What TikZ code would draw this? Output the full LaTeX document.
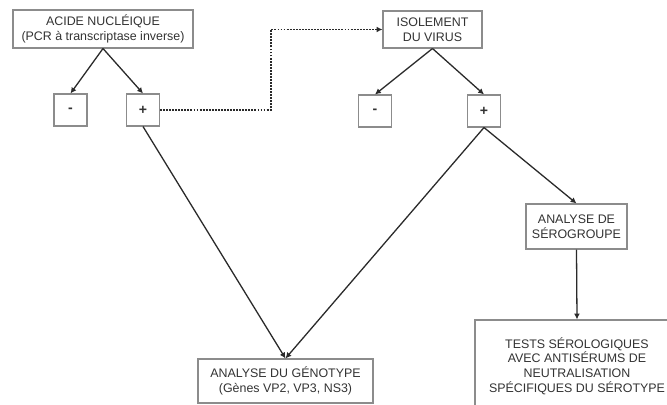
\documentclass[tikz,border=0pt]{standalone}
\usepackage{fontspec}
\setmainfont{Liberation Sans}
\usepackage{xcolor}
\usepackage{tikz}
\usetikzlibrary{arrows.meta,positioning,calc}
\definecolor{traitcol}{HTML}{2A2A2A}
\definecolor{bordcol}{HTML}{8C8C8C}
\definecolor{textecol}{HTML}{333333}

\begin{document}
\begin{tikzpicture}[x=0.03cm,y=-0.03cm,
  font=\fontsize{10.6}{12.6}\selectfont,
  boite/.style={draw=bordcol,line width=0.9pt,fill=white,text=textecol,
                align=center,inner sep=0pt},
  signe/.style={boite,minimum width=0.99cm,minimum height=0.96cm,
                font=\fontsize{12}{12}\selectfont\bfseries},
  fleche/.style={-{Latex[length=5pt,width=5pt]},traitcol,line width=1.1pt},
  pointille/.style={fleche,dash pattern=on 1.6pt off 1pt,line width=1.3pt},
]
\clip (0,0) rectangle (667,405);
\fill[white] (0,0) rectangle (667,405);

\node[boite,minimum width=5.4cm,minimum height=1.14cm] (acide) at (103,29)
  {ACIDE NUCLÉIQUE\\(PCR à transcriptase inverse)};
\node[signe] (moinsA) at (70.5,110) {-};
\node[signe] (plusA)  at (143,110)  {+};

\node[boite,minimum width=2.97cm,minimum height=1.11cm] (isol) at (432.5,29.5)
  {ISOLEMENT\\DU VIRUS};
\node[signe] (moinsB) at (375,111) {-};
\node[signe] (plusB)  at (484,111) {+};

\node[boite,minimum width=3.03cm,minimum height=1.35cm] (sero) at (576.5,226.5)
  {ANALYSE DE\\SÉROGROUPE};
\node[boite,minimum width=5.25cm,minimum height=1.32cm] (geno) at (285.5,381)
  {ANALYSE DU GÉNOTYPE\\(Gènes VP2, VP3, NS3)};
\node[boite,minimum width=6.12cm,minimum height=2.76cm] (tests) at (577,366)
  {TESTS SÉROLOGIQUES\\AVEC ANTISÉRUMS DE\\NEUTRALISATION\\SPÉCIFIQUES DU SÉROTYPE};

\coordinate (coude) at (271,29.5);

\draw[fleche] (acide.south) -- (moinsA.north);
\draw[fleche] (acide.south) -- (plusA.north);
\draw[fleche] (isol.south) -- (moinsB.north);
\draw[fleche] (isol.south) -- (plusB.north);

% passage a l'isolement
\draw[pointille] (plusA.east) -| (coude) -- (isol.west);

\draw[fleche] (plusA.south) -- (geno.north);
\draw[fleche] (plusB.south) -- (geno.north);
\draw[fleche] (plusB.south) -- (sero.north);
\draw[fleche] (sero.south) -- (tests.north);
\end{tikzpicture}
\end{document}
